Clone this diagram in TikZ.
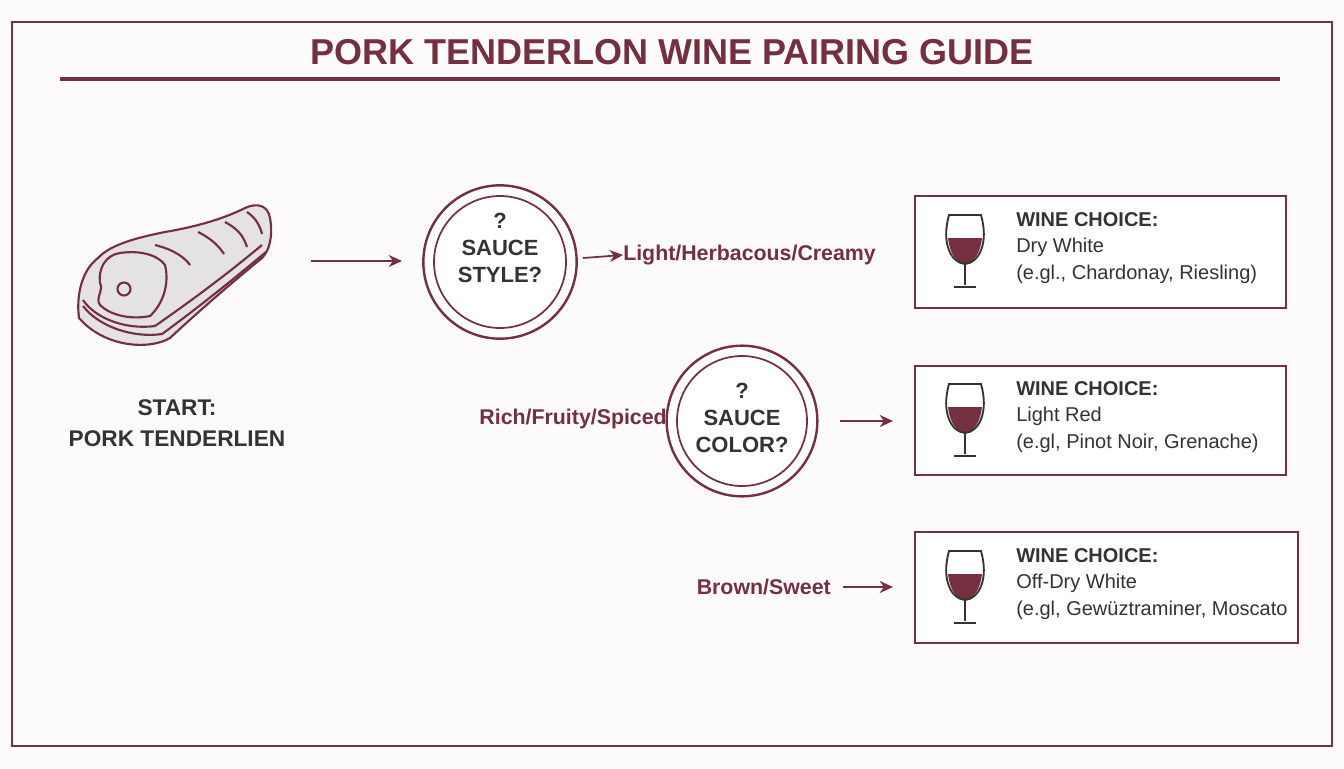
\documentclass[tikz,border=0pt]{standalone}
\usepackage{fontspec}
\setmainfont{Liberation Sans}
\usetikzlibrary{arrows.meta}
\definecolor{wine}{HTML}{74303F}
\definecolor{dark}{HTML}{333333}
\definecolor{bg}{HTML}{FDFAFC}
\definecolor{meat}{HTML}{E4E2E5}
\tikzset{
  frame/.style={draw=wine, line width=1.6pt},
  arr/.style={draw=wine, line width=1.3pt, -{Stealth[length=10pt,width=9pt]}},
  lbl/.style={text=wine, font=\bfseries\fontsize{16}{18}\selectfont, inner sep=0pt},
  qtext/.style={text=dark, font=\bfseries\fontsize{16.5}{20.5}\selectfont, align=center},
  wbox/.style={draw=wine, line width=1.6pt, fill=white},
  wtext/.style={text=dark, font=\fontsize{15}{20}\selectfont, align=left, anchor=north west, inner sep=0pt},
}
\newcommand{\wineglass}[2]{%
  \begin{scope}[shift={(#1,#2)}]
    \fill[wine] (-17,23) .. controls (-15,40) and (-8,48) .. (0,49) .. controls (8,48) and (15,40) .. (17,23) -- cycle;
    \draw[dark, line width=1.4pt] (-16,0) .. controls (-24,28) and (-14,48) .. (0,49) .. controls (14,48) and (24,28) .. (16,0) -- cycle;
    \draw[dark, line width=1.4pt] (0,49) -- (0,70) (-11,72) -- (11,72);
  \end{scope}}
\begin{document}
\begin{tikzpicture}[x=0.75pt,y=-0.75pt]
\fill[bg] (0,0) rectangle (1344,768);
\useasboundingbox (0,0) rectangle (1344,768);
\draw[frame] (12,22) rectangle (1332,746);
\node[text=wine, font=\bfseries\fontsize{27}{30}\selectfont] (title) at (672,52) {PORK TENDERLON WINE PAIRING GUIDE};
\draw[wine, line width=2.4pt] (60,79) -- (1280,79);

% meat icon
\begin{scope}[wine, line width=1.6pt]
\path[fill=meat, draw=wine] (79,318) .. controls (76,295) and (82,270) .. (98,258)
  .. controls (110,245) and (135,238) .. (165,232)
  .. controls (200,226) and (225,218) .. (245,208)
  .. controls (258,202) and (268,206) .. (270,218)
  .. controls (273,235) and (270,250) .. (262,258)
  .. controls (235,280) and (200,310) .. (170,338)
  .. controls (150,350) and (105,348) .. (79,318) -- cycle;
\draw (83,306) .. controls (100,328) and (135,338) .. (162,334)
  .. controls (195,310) and (230,282) .. (266,252);
\draw (83,300) .. controls (95,318) and (125,330) .. (155,326)
  .. controls (185,305) and (220,280) .. (262,245);
\draw (100,283) .. controls (98,268) and (106,255) .. (120,253)
  .. controls (140,250) and (158,255) .. (165,265)
  .. controls (170,285) and (162,305) .. (150,316)
  .. controls (130,320) and (110,315) .. (100,305)
  .. controls (95,298) and (104,290) .. (100,283) -- cycle;
\draw (124,289) circle (6.5);
\draw (155,245) .. controls (175,250) and (185,258) .. (190,265);
\draw (198,232) .. controls (214,240) and (220,248) .. (224,254);
\draw (225,222) .. controls (240,230) and (244,238) .. (247,247);
\draw (247,212) .. controls (256,218) and (260,226) .. (262,234);
\end{scope}
\node[text=dark, font=\bfseries\fontsize{17}{23}\selectfont, align=center] (start) at (177,423) {START:\\PORK TENDERLIEN};
\coordinate (startout) at (311,261);

% sauce style
\node[circle, draw=wine, line width=1.8pt, minimum size=115pt, inner sep=0pt, fill=white] (c1) at (500,262) {};
\draw[wine, line width=1.3pt] (c1.center) circle (66);
\node[qtext] at (500,248) {?\\SAUCE\\STYLE?};
\draw[arr] (startout) -- (402,261);

\node[lbl, anchor=west] (l1) at (623,255) {Light/Herbacous/Creamy};
\draw[arr] (583,258) -- (l1.west);

% sauce colour
\node[circle, draw=wine, line width=1.8pt, minimum size=113pt, inner sep=0pt, fill=white] (c2) at (742,421) {};
\draw[wine, line width=1.3pt] (c2.center) circle (65);
\node[qtext] at (742,418) {?\\SAUCE\\COLOR?};
\node[lbl, anchor=east] (l2) at (667,419) {Rich/Fruity/Spiced};

\node[lbl, anchor=east] (l3) at (831,587) {Brown/Sweet};

% boxes
\node[wbox, minimum width=278, minimum height=84, anchor=north west] (b1) at (914,195) {};
\node[wbox, minimum width=278, minimum height=82, anchor=north west] (b2) at (914,365) {};
\node[wbox, minimum width=287, minimum height=83, anchor=north west] (b3) at (914,531) {};

\draw[arr] (840,421) -- (893,421);
\draw[arr] (843,587) -- (893,587);

\wineglass{965}{215}
\wineglass{965}{384}
\wineglass{965}{551}

\node[wtext] at (1016,212) {\textbf{WINE CHOICE:}\\Dry White\\(e.gl., Chardonay, Riesling)};
\node[wtext] at (1016,381) {\textbf{WINE CHOICE:}\\Light Red\\(e.gl, Pinot Noir, Grenache)};
\node[wtext] at (1016,548) {\textbf{WINE CHOICE:}\\Off-Dry White\\(e.gl, Gewüztraminer, Moscato};
\end{tikzpicture}
\end{document}
